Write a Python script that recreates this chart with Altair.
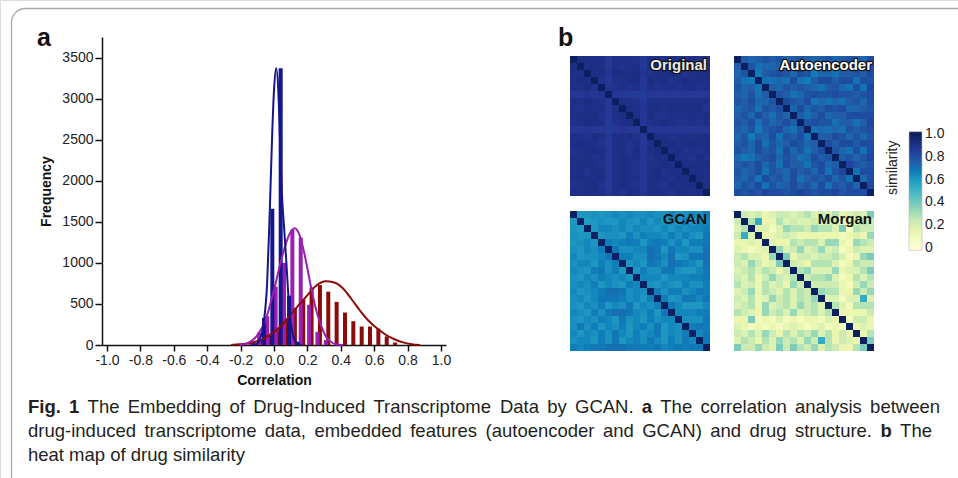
import altair as alt
import pandas as pd

SANS = "Liberation Sans, Arial, sans-serif"

# ---------------- panel a : correlation histograms ----------------
series_names = ["original", "Autoencoder", "GCAN"]
series_colors = ["#15158c", "#9b1fb1", "#8b0b0b"]

orig_bin_x = [-0.11, -0.06, -0.01, 0.04, 0.09, 0.14]
orig_bin_y = [10, 330, 1660, 3370, 600, 40]
auto_bin_x = [-0.14, -0.09, -0.04, 0.01, 0.06, 0.11, 0.16, 0.21, 0.26, 0.31]
auto_bin_y = [40, 150, 350, 710, 1000, 1400, 1310, 490, 160, 60]
gcan_bin_x = [-0.175, -0.125, -0.075, -0.025, 0.025, 0.075, 0.125, 0.175, 0.225, 0.275,
              0.325, 0.375, 0.425, 0.475, 0.525, 0.575, 0.625, 0.675, 0.725]
gcan_bin_y = [15, 40, 60, 110, 180, 290, 450, 560, 700, 730,
              650, 525, 395, 290, 225, 225, 200, 105, 30]

orig_fit_x = [-0.13, -0.1, -0.08, -0.06, -0.04, -0.025, -0.01, 0.0, 0.013, 0.025,
              0.035, 0.045, 0.058, 0.07, 0.082, 0.093, 0.107, 0.12, 0.14, 0.16]
orig_fit_y = [0, 15, 80, 270, 750, 1600, 2600, 3100, 3370, 3100,
              2500, 1880, 1450, 1070, 650, 345, 150, 60, 15, 0]
auto_fit_x = [-0.2, -0.15, -0.1, -0.05, 0.0, 0.05, 0.09, 0.12, 0.15, 0.18,
              0.21, 0.24, 0.27, 0.3, 0.33, 0.36, 0.4]
auto_fit_y = [0, 25, 110, 300, 670, 1100, 1350, 1420, 1330, 1080,
              760, 470, 260, 110, 40, 10, 0]
gcan_fit_x = [-0.25, -0.2, -0.15, -0.1, -0.05, 0.0, 0.05, 0.1, 0.15, 0.2, 0.25, 0.3,
              0.35, 0.4, 0.45, 0.5, 0.55, 0.6, 0.65, 0.7, 0.75, 0.8, 0.85]
gcan_fit_y = [0, 8, 20, 45, 90, 160, 250, 380, 500, 620, 730, 775,
              760, 690, 560, 420, 295, 200, 125, 70, 32, 10, 0]

x_ticks = [-1.0, -0.8, -0.6, -0.4, -0.2, 0.0, 0.2, 0.4, 0.6, 0.8, 1.0]
y_ticks = [0, 500, 1000, 1500, 2000, 2500, 3000, 3500]

# ---------------- panel b : similarity heat maps (lower triangles, digit codes) ----------------
original_rows = ["", "8", "77", "787", "7786", "44545", "778764", "7687747", "77786478",
                 "678873677", "4454434544", "77687477864", "787764786747", "6778747768478",
                 "77867478774687", "787764787647787", "7768747876478677", "78778478774787687",
                 "677864787647768778", "7787747687478768777"]
autoenc_rows = ["", "5", "46", "532", "6453", "54635", "657446", "4563657", "56475364",
                "657364575", "5462567436", "46254736573", "564736457645", "6547563746357",
                "42356746534756", "565746375536745", "6457365475647368", "54637564735657463",
                "465736457564736574", "7676877678767786777"]
gcan_rows = ["", "3", "32", "433", "3453", "43546", "534457", "4553646", "54367463",
             "435465453", "4546354365", "53456887454", "453577764536", "4354635473546",
             "54364788754637", "435465374536455", "4746354635647354", "53546475364573546",
             "455364735647536475", "6567788877667567677"]
morgan_rows = ["", "3", "24", "392", "1121", "21012", "342215", "3253126", "23424313",
               "324135324", "4231423153", "23514324243", "324125342435", "2341523425342",
               "43215342523424", "116010201011021", "2101010121012010", "32425314243524131",
               "243142534253941321", "6335326364352431146"]
# value = low + step * digit
code_scales = {"Original": (0.82, 0.012), "Autoencoder": (0.63, 0.025),
               "GCAN": (0.55, 0.02), "Morgan": (0.08, 0.05)}

ylgnbu = ["#ffffd9", "#edf8b1", "#c7e9b4", "#7fcdbb", "#41b6c4",
          "#1d91c0", "#225ea8", "#253494", "#081d58"]
ylgnbu_stops = [-0.02, 0.125, 0.25, 0.375, 0.5, 0.625, 0.75, 0.875, 1.02]
legend_ticks = [0, 0.2, 0.4, 0.6, 0.8, 1.0]

# caption lines: (text, bold) tokens; first two lines are justified
caption_line1 = [("Fig.", True), ("1", True), ("The", False), ("Embedding", False), ("of", False),
                 ("Drug-Induced", False), ("Transcriptome", False), ("Data", False), ("by", False),
                 ("GCAN.", False), ("a", True), ("The", False), ("correlation", False),
                 ("analysis", False), ("between", False)]
caption_line2 = [(w, False) for w in
                 "drug-induced transcriptome data, embedded features (autoencoder and GCAN) and drug structure.".split()] \
    + [("b", True), ("The", False)]
caption_line3 = [(w, False) for w in "heat map of drug similarity".split()]

# Arial / Liberation Sans advance widths (1/1000 em) for text layout
REG = {" ": 278, "(": 333, ")": 333, ",": 278, "-": 333, ".": 278, "1": 556,
       "A": 667, "C": 722, "D": 722, "E": 667, "G": 778, "I": 278, "N": 722, "T": 611,
       "a": 556, "b": 556, "c": 500, "d": 556, "e": 556, "f": 278, "g": 556, "h": 556,
       "i": 222, "l": 222, "m": 833, "n": 556, "o": 556, "p": 556, "r": 333, "s": 500,
       "t": 278, "u": 556, "w": 722, "y": 500}
BOLD = {"F": 611, "i": 278, "g": 611, ".": 278, "1": 556, "a": 556, "b": 611}


# ---------------- build tables ----------------
def bins(name, xs, ys):
    return [{"series": name, "x": a, "y": b} for a, b in zip(xs, ys)]


bars_df = pd.DataFrame(bins("GCAN", gcan_bin_x, gcan_bin_y)
                       + bins("Autoencoder", auto_bin_x, auto_bin_y)
                       + bins("original", orig_bin_x, orig_bin_y))
fits_df = pd.DataFrame(bins("GCAN", gcan_fit_x, gcan_fit_y)
                       + bins("Autoencoder", auto_fit_x, auto_fit_y)
                       + bins("original", orig_fit_x, orig_fit_y))


def matrix(rows, name):
    low, step = code_scales[name]
    n = len(rows)
    vals = [[1.0] * n for _ in range(n)]
    for i, s in enumerate(rows):
        if i == 0:
            continue
        s = (s + (s[-1:] or "5") * n)[:i]
        for j, ch in enumerate(s):
            v = round(low + step * int(ch), 4)
            vals[i][j] = v
            vals[j][i] = v
    return pd.DataFrame([{"row": i, "col": j, "value": vals[i][j]}
                         for i in range(n) for j in range(n)])


xs = alt.Scale(domain=[-1, 1], range=[102, 446], nice=False, zero=False)
ys = alt.Scale(domain=[0, 3750], range=[345, 37], nice=False)

x_axis = alt.Axis(values=x_ticks, labelExpr="(datum.value < 0 ? '-' : '') + format(abs(datum.value), '.1f')",
                  title="Correlation", offset=-133, grid=False, tickSize=6, tickWidth=1.5,
                  domainWidth=1.5, domainColor="#111", tickColor="#111", labelFontSize=14,
                  labelColor="#222", labelPadding=2, labelFont=SANS, titleFont=SANS,
                  titleFontSize=14, titleFontWeight="bold", titleColor="#111", titlePadding=6,
                  labelFlush=False, labelOverlap=False)
y_axis = alt.Axis(values=y_ticks, format="d", title="Frequency", offset=-102, grid=False,
                  tickSize=7, tickWidth=1.5, domainWidth=1.5, domainColor="#111",
                  tickColor="#111", labelFontSize=14, labelColor="#222", labelPadding=2,
                  labelFont=SANS, titleFont=SANS, titleFontSize=14, titleFontWeight="bold",
                  titleColor="#111", titlePadding=8, labelOverlap=False)

series_scale = alt.Scale(domain=series_names, range=series_colors)

bars = alt.Chart(bars_df).mark_bar(orient="vertical", size=4).encode(
    x=alt.X("x:Q", scale=xs, axis=x_axis),
    y=alt.Y("y:Q", scale=ys, axis=y_axis),
    fill=alt.Fill("series:N", scale=series_scale, legend=None),
)
fits = alt.Chart(fits_df).mark_line(strokeWidth=2, interpolate="monotone").encode(
    x=alt.X("x:Q", scale=xs, axis=None),
    y=alt.Y("y:Q", scale=ys, axis=None),
    stroke=alt.Stroke("series:N", scale=series_scale, legend=alt.Legend(
        orient="none", legendX=351, legendY=56, title=None, symbolType="M-2,0L2,0",
        symbolSize=144, symbolStrokeWidth=2.2, labelFontSize=14, labelOffset=11,
        rowPadding=0, labelFont=SANS, labelColor="#111")),
)

color_scale = alt.Scale(domain=ylgnbu_stops, range=ylgnbu)
color_legend = alt.Legend(orient="none", legendX=909, legendY=131.7, direction="vertical",
                          gradientLength=118.6, gradientThickness=13, title=None,
                          values=legend_ticks,
                          labelExpr="datum.value == 0 ? '0' : format(datum.value, '.1f')",
                          labelFontSize=14, labelOffset=3, labelFont=SANS, labelColor="#222",
                          labelOverlap=False,
                          gradientStrokeColor="#bbbbbb", gradientStrokeWidth=0.6)


def heat(rows, name, xr, yr):
    return alt.Chart(matrix(rows, name)).mark_rect().encode(
        x=alt.X("col:O", scale=alt.Scale(range=xr, paddingInner=0, paddingOuter=0), axis=None),
        y=alt.Y("row:O", scale=alt.Scale(range=yr, paddingInner=0, paddingOuter=0), axis=None),
        color=alt.Color("value:Q", scale=color_scale, legend=color_legend),
    )


h1 = heat(original_rows, "Original", [570, 710], [56, 196])
h2 = heat(autoenc_rows, "Autoencoder", [734, 874], [56, 196])
h3 = heat(gcan_rows, "GCAN", [570, 710], [211, 351])
h4 = heat(morgan_rows, "Morgan", [734, 874], [211, 351])


def label(text, x, y, size, weight="normal", align="left", color="#111",
          angle=None, stroke=None, sw=0):
    kw = dict(text=text, fontSize=size, fontWeight=weight, align=align, font=SANS,
              color=color, baseline="alphabetic")
    if angle is not None:
        kw["angle"] = angle
        kw["baseline"] = "middle"
    if stroke:
        kw.update(stroke=stroke, strokeWidth=sw, strokeJoin="round")
    return alt.Chart().mark_text(**kw).encode(x=alt.value(x), y=alt.value(y))


def width(word, bold, size):
    table = BOLD if bold else REG
    return sum(table.get(ch, REG.get(ch, 556)) for ch in word) * size / 1000.0


def caption_line(tokens, y, size, left, right=None):
    out = []
    widths = [width(w, b, size) for w, b in tokens]
    if right is None or len(tokens) < 2:
        gap = 0.278 * size
    else:
        gap = (right - left - sum(widths)) / (len(tokens) - 1)
    x = left
    for (w, b), wd in zip(tokens, widths):
        out.append(label(w, round(x, 1), y, size, "bold" if b else "normal", color="#231f20"))
        x += wd + gap
    return out


frame = alt.Chart().mark_rect(fill="white", fillOpacity=0, stroke="#a8a8a8", strokeWidth=1.3,
                              cornerRadius=14).encode(
    x=alt.value(11.5), x2=alt.value(1200), y=alt.value(8.5), y2=alt.value(620))

CAP = 18.5
texts = [
    label("a", 37, 46, 25, "bold"),
    label("b", 558, 46, 25, "bold"),
    label("Original", 707, 70, 15, "bold", "right", color="#111", stroke="#111", sw=2.5),
    label("Original", 707, 70, 15, "bold", "right", color="#e8e8e8"),
    label("Autoencoder", 872, 70, 15, "bold", "right", color="#111", stroke="#111", sw=2.5),
    label("Autoencoder", 872, 70, 15, "bold", "right", color="#ffffff"),
    label("GCAN", 707, 224, 15, "bold", "right", color="#111"),
    label("Morgan", 872, 224, 15, "bold", "right", color="#111"),
    label("similarity", 893, 195, 14, angle=270, color="#222"),
]
texts += caption_line(caption_line1, 413, CAP, 28, 940)
texts += caption_line(caption_line2, 437, CAP, 28, 932)
texts += caption_line(caption_line3, 461, CAP, 28)

chart = alt.layer(frame, bars, fits, h1, h2, h3, h4, *texts).resolve_scale(
    x="independent", y="independent"
).properties(
    width=958, height=478, padding=0, autosize="none", background="white"
).configure_view(stroke=None).configure(font=SANS)

chart.save("out.html", embed_options={"renderer": "svg", "actions": False})
